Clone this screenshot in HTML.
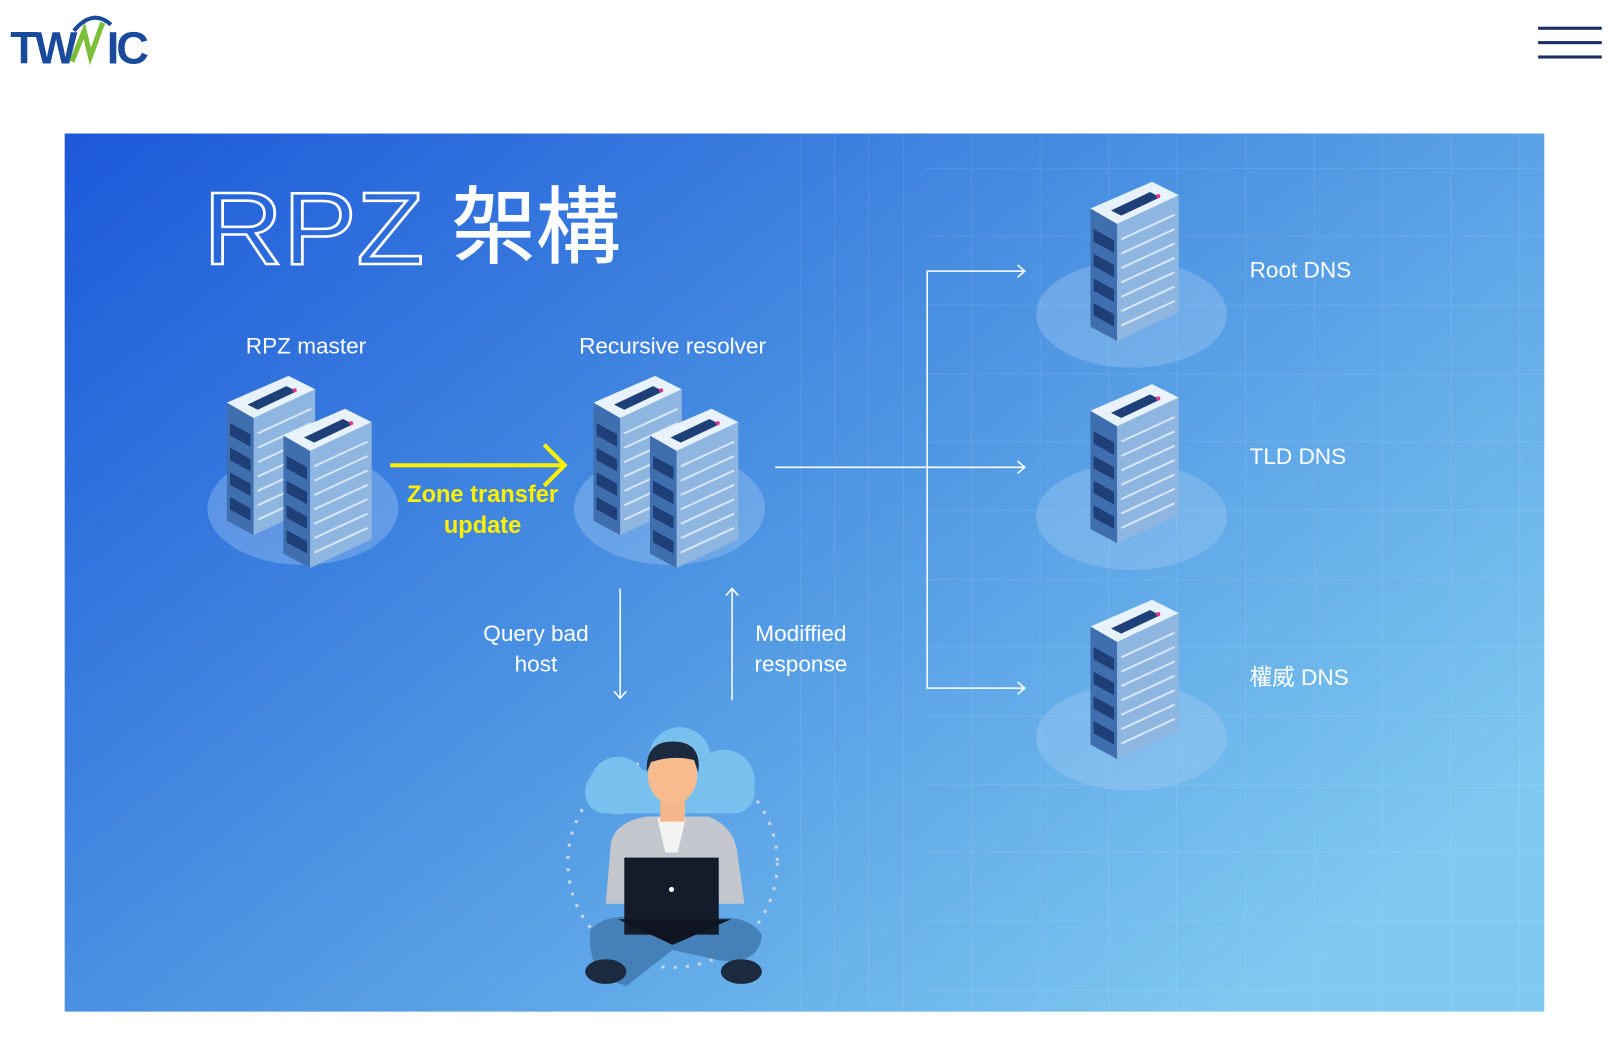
<!DOCTYPE html>
<html><head><meta charset="utf-8"><style>
html,body{margin:0;padding:0;background:#fff;width:1610px;height:1064px;overflow:hidden}
svg{display:block}
</style></head><body>
<svg width="1610" height="1064" viewBox="0 0 1568 1036" preserveAspectRatio="none" xmlns="http://www.w3.org/2000/svg">
<defs>
<linearGradient id="bg" x1="0" y1="0" x2="1" y2="0.75">
<stop offset="0" stop-color="#1c58d9"/>
<stop offset="0.5" stop-color="#4b92e2"/>
<stop offset="1" stop-color="#80caf1"/>
</linearGradient>
<g id="srv">
<polygon points="0,0 26,15 26,129 0,115" fill="#3f6fae"/>
<polygon points="26,15 86,-13 86,101 26,129" fill="#8fb6e0"/>
<polygon points="0,0 26,15 86,-13 60,-26" fill="#e8f2fb"/>
<polygon points="20,2 30,7 68,-11 58,-16" fill="#1f3f78"/>
<g fill="#1f3f78">
<polygon points="3,20 23,31 23,43 3,32"/><polygon points="3,44 23,55 23,67 3,56"/><polygon points="3,68 23,79 23,91 3,80"/><polygon points="3,92 23,103 23,115 3,104"/>
</g>
<g stroke="#d7e6f6" stroke-width="2">
<line x1="30" y1="30" x2="82" y2="6"/><line x1="30" y1="44" x2="82" y2="20"/><line x1="30" y1="58" x2="82" y2="34"/><line x1="30" y1="72" x2="82" y2="48"/><line x1="30" y1="86" x2="82" y2="62"/><line x1="30" y1="100" x2="82" y2="76"/><line x1="30" y1="114" x2="82" y2="90"/>
</g>
<circle cx="66" cy="-12" r="2" fill="#e0358a"/>
</g>
</defs>
<!-- header -->
<text x="10" y="62" font-family="Liberation Sans, sans-serif" font-weight="bold" font-size="44" fill="#1a4a9c" letter-spacing="-3">TW</text>
<path d="M70 60 L82 30 L88 55 L100 22" stroke="#7bbf3a" stroke-width="5" fill="none"/>
<path d="M72 30 Q90 8 108 24" stroke="#1a4a9c" stroke-width="4" fill="none"/>
<text x="104" y="62" font-family="Liberation Sans, sans-serif" font-weight="bold" font-size="44" fill="#1a4a9c" letter-spacing="-3">IC</text>
<g fill="#1a2f6a"><rect x="1498" y="26" width="62" height="3"/><rect x="1498" y="40" width="62" height="3"/><rect x="1498" y="54" width="62" height="3"/></g>
<!-- panel -->
<rect x="63" y="130" width="1441" height="855" fill="url(#bg)"/>
<g stroke="#ffffff" stroke-opacity="0.09" stroke-width="1">
<line x1="780" y1="130" x2="780" y2="985"/><line x1="813" y1="130" x2="813" y2="985"/><line x1="846" y1="130" x2="846" y2="985"/><line x1="880" y1="130" x2="880" y2="985"/><line x1="946" y1="130" x2="946" y2="985"/><line x1="1013" y1="130" x2="1013" y2="985"/><line x1="1080" y1="130" x2="1080" y2="985"/><line x1="1146" y1="130" x2="1146" y2="985"/><line x1="1213" y1="130" x2="1213" y2="985"/><line x1="1280" y1="130" x2="1280" y2="985"/><line x1="1346" y1="130" x2="1346" y2="985"/><line x1="1413" y1="130" x2="1413" y2="985"/><line x1="1480" y1="130" x2="1480" y2="985"/>
<line x1="900" y1="164" x2="1504" y2="164"/><line x1="900" y1="230" x2="1504" y2="230"/><line x1="900" y1="297" x2="1504" y2="297"/><line x1="900" y1="364" x2="1504" y2="364"/><line x1="900" y1="430" x2="1504" y2="430"/><line x1="900" y1="497" x2="1504" y2="497"/><line x1="900" y1="564" x2="1504" y2="564"/><line x1="900" y1="630" x2="1504" y2="630"/><line x1="900" y1="697" x2="1504" y2="697"/><line x1="900" y1="764" x2="1504" y2="764"/><line x1="900" y1="830" x2="1504" y2="830"/><line x1="900" y1="897" x2="1504" y2="897"/><line x1="900" y1="964" x2="1504" y2="964"/>
</g>
<text x="198" y="257" font-family="Liberation Sans, sans-serif" font-size="100" fill="none" stroke="#fff" stroke-width="2.5" textLength="215" lengthAdjust="spacingAndGlyphs">RPZ</text>
<text x="440" y="250" font-family="Liberation Sans, 'Noto Sans CJK TC', sans-serif" font-size="82" fill="#fff" stroke="#fff" stroke-width="1">架構</text>
<g font-family="Liberation Sans, 'Noto Sans CJK TC', sans-serif" font-size="22" fill="#fff">
<text x="298" y="344" text-anchor="middle">RPZ master</text>
<text x="655" y="344" text-anchor="middle">Recursive resolver</text>
<text x="1217" y="270">Root DNS</text>
<text x="1217" y="452">TLD DNS</text>
<text x="1217" y="667">權威 DNS</text>
<text x="522" y="624" text-anchor="middle">Query bad</text>
<text x="522" y="654" text-anchor="middle">host</text>
<text x="780" y="624" text-anchor="middle">Modiffied</text>
<text x="780" y="654" text-anchor="middle">response</text>
</g>
<!-- bases -->
<g fill="#a9cdf3" fill-opacity="0.35">
<ellipse cx="295" cy="495" rx="93" ry="55"/><ellipse cx="652" cy="495" rx="93" ry="55"/>
<ellipse cx="1102" cy="306" rx="93" ry="52"/><ellipse cx="1102" cy="503" rx="93" ry="52"/><ellipse cx="1102" cy="718" rx="93" ry="52"/>
</g>
<use href="#srv" x="221" y="392"/><use href="#srv" x="276" y="424"/>
<use href="#srv" x="578" y="392"/><use href="#srv" x="633" y="424"/>
<use href="#srv" x="1062" y="203"/><use href="#srv" x="1062" y="400"/><use href="#srv" x="1062" y="610"/>
<!-- yellow arrow -->
<line x1="380" y1="453" x2="548" y2="453" stroke="#ffef00" stroke-width="4"/>
<polyline points="530,433 550,453 530,473" fill="none" stroke="#ffef00" stroke-width="4"/>
<g font-family="Liberation Sans, sans-serif" font-weight="bold" font-size="23" fill="#ffef00" text-anchor="middle">
<text x="470" y="489">Zone transfer</text><text x="470" y="519">update</text></g>
<!-- connectors -->
<g stroke="#fff" stroke-width="1.5" fill="none">
<line x1="755" y1="455" x2="998" y2="455"/><polyline points="991,449 998,455 991,461"/>
<polyline points="998,264 903,264 903,670 998,670"/>
<polyline points="991,258 998,264 991,270"/><polyline points="991,664 998,670 991,676"/>
<line x1="604" y1="573" x2="604" y2="680"/><polyline points="598,673 604,680 610,673"/>
<line x1="713" y1="682" x2="713" y2="573"/><polyline points="707,580 713,573 719,580"/>
</g>
<!-- person -->
<circle cx="655" cy="840" r="102" fill="none" stroke="#c9d6e6" stroke-width="3" stroke-dasharray="3 9"/>
<g fill="#79c0ef"><circle cx="662" cy="738" r="30"/><circle cx="705" cy="760" r="30"/><circle cx="602" cy="765" r="28"/><rect x="570" y="750" width="165" height="42" rx="20"/></g>
<path d="M595 820 Q600 800 630 795 L690 795 Q715 805 718 830 L725 880 L590 880 Z" fill="#c3c7cd"/>
<polygon points="640,796 668,796 660,830 648,830" fill="#f2f2f2"/>
<rect x="643" y="770" width="24" height="30" fill="#f5b58a"/>
<ellipse cx="655" cy="755" rx="24" ry="28" fill="#f7bb8e"/>
<path d="M630 752 Q628 722 655 722 Q684 722 680 752 L676 740 Q655 735 634 742 Z" fill="#1c2a3f"/>
<path d="M575 905 Q600 880 660 905 Q720 880 742 910 Q740 940 700 935 L655 925 L610 960 Q570 950 575 905Z" fill="#4680b8"/>
<ellipse cx="590" cy="946" rx="20" ry="12" fill="#1c2a3f"/><ellipse cx="722" cy="946" rx="20" ry="12" fill="#1c2a3f"/>
<polygon points="608,835 700,835 700,910 608,910" fill="#141c2a"/>
<polygon points="602,895 712,895 655,920" fill="#0e1420"/>
<circle cx="654" cy="866" r="2.5" fill="#fff"/>
</svg>
</body></html>
